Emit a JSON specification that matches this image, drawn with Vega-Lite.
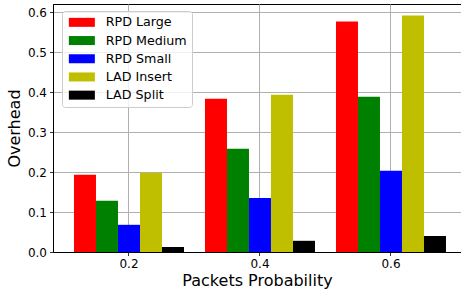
{
  "$schema": "https://vega.github.io/schema/vega-lite/v6.json",
  "width": 408,
  "height": 248,
  "autosize": "none",
  "padding": {"left": 53, "top": 4, "right": 0, "bottom": 41},
  "data": {
    "values": [
      {"prob": "0.2", "series": "RPD Large", "value": 0.193},
      {"prob": "0.2", "series": "RPD Medium", "value": 0.128},
      {"prob": "0.2", "series": "RPD Small", "value": 0.068},
      {"prob": "0.2", "series": "LAD Insert", "value": 0.198},
      {"prob": "0.2", "series": "LAD Split", "value": 0.0125},
      {"prob": "0.4", "series": "RPD Large", "value": 0.383},
      {"prob": "0.4", "series": "RPD Medium", "value": 0.258},
      {"prob": "0.4", "series": "RPD Small", "value": 0.135},
      {"prob": "0.4", "series": "LAD Insert", "value": 0.393},
      {"prob": "0.4", "series": "LAD Split", "value": 0.028},
      {"prob": "0.6", "series": "RPD Large", "value": 0.576},
      {"prob": "0.6", "series": "RPD Medium", "value": 0.388},
      {"prob": "0.6", "series": "RPD Small", "value": 0.203},
      {"prob": "0.6", "series": "LAD Insert", "value": 0.591},
      {"prob": "0.6", "series": "LAD Split", "value": 0.040}
    ]
  },
  "mark": {"type": "bar"},
  "encoding": {
    "x": {
      "field": "prob",
      "type": "ordinal",
      "scale": {"paddingInner": 0.1603, "paddingOuter": 0.1374, "align": 0.583},
      "axis": {"labelAngle": 0, "bandPosition": 0.5, "grid": true, "title": "Packets Probability", "titlePadding": 3, "labelPadding": 3}
    },
    "xOffset": {
      "field": "series",
      "type": "nominal",
      "sort": ["RPD Large", "RPD Medium", "RPD Small", "LAD Insert", "LAD Split"],
      "scale": {"paddingInner": 0, "paddingOuter": 0}
    },
    "y": {
      "field": "value",
      "type": "quantitative",
      "scale": {"domain": [0, 0.62], "nice": false},
      "axis": {"values": [0, 0.1, 0.2, 0.3, 0.4, 0.5, 0.6], "format": ".1f", "title": "Overhead", "titlePadding": 5, "labelPadding": 3}
    },
    "color": {
      "field": "series",
      "type": "nominal",
      "sort": ["RPD Large", "RPD Medium", "RPD Small", "LAD Insert", "LAD Split"],
      "scale": {
        "domain": ["RPD Large", "RPD Medium", "RPD Small", "LAD Insert", "LAD Split"],
        "range": ["#ff0000", "#008000", "#0000ff", "#bfbf00", "#000000"]
      },
      "legend": {
        "title": null,
        "orient": "none",
        "legendX": 9,
        "legendY": 7,
        "padding": 5,
        "fillColor": "rgba(255,255,255,0.8)",
        "strokeColor": "#cccccc",
        "cornerRadius": 3,
        "symbolType": "M-1,-1H4.78V1H-1Z",
        "symbolSize": 81,
        "symbolStrokeWidth": 0,
        "symbolOpacity": 1,
        "labelOffset": 26,
        "labelFontSize": 12.7,
        "labelFont": "DejaVu Sans",
        "labelColor": "#000000",
        "rowPadding": 4.2
      }
    }
  },
  "config": {
    "view": {"stroke": "#000000", "strokeWidth": 1},
    "axis": {
      "domainColor": "#000000",
      "domainWidth": 1,
      "tickColor": "#000000",
      "tickSize": 3.5,
      "tickWidth": 0.8,
      "gridColor": "#b0b0b0",
      "gridWidth": 1,
      "gridOpacity": 1,
      "labelFont": "DejaVu Sans",
      "labelFontSize": 12,
      "labelColor": "#000000",
      "titleFont": "DejaVu Sans",
      "titleFontSize": 16,
      "titleFontWeight": "normal",
      "titleColor": "#000000"
    }
  }
}
